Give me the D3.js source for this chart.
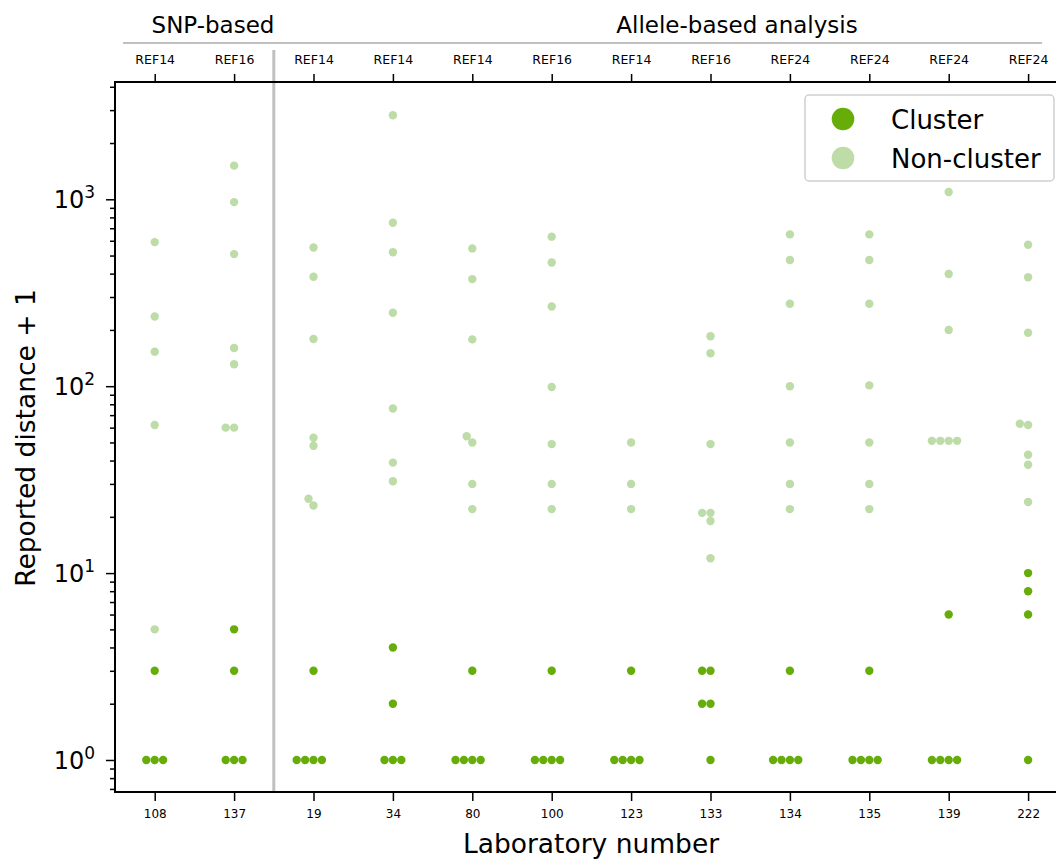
<!DOCTYPE html>
<html>
<head>
<meta charset="utf-8">
<script src="https://cdnjs.cloudflare.com/ajax/libs/d3/7.8.5/d3.min.js"></script>
<style>
  html, body { margin: 0; padding: 0; background: #ffffff; }
  svg { display: block; }
  text { font-family: "DejaVu Sans", sans-serif; fill: #000; }
</style>
</head>
<body>
<svg id="chart" width="1056" height="859"></svg>
<script>
// Laboratories, the reference genome each used, and the reported pairwise distances
const labs = ["108", "137", "19", "34", "80", "100", "123", "133", "134", "135", "139", "222"];
const refs = ["REF14", "REF16", "REF14", "REF14", "REF14", "REF16", "REF14", "REF16", "REF24", "REF24", "REF24", "REF24"];

// Reported distances for isolates in the outbreak cluster
const clusterDist = [
  [2, 0, 0, 0],
  [4, 2, 0, 0, 0],
  [2, 0, 0, 0, 0],
  [3, 1, 0, 0, 0],
  [2, 0, 0, 0, 0],
  [2, 0, 0, 0, 0],
  [2, 0, 0, 0, 0],
  [2, 2, 1, 1, 0],
  [2, 0, 0, 0, 0],
  [2, 0, 0, 0, 0],
  [5, 0, 0, 0, 0],
  [9, 7, 5, 0]
];

// Reported distances for isolates outside the cluster
const nonClusterDist = [
  [589, 235, 152, 61, 4],
  [1513, 965, 508, 159, 130, 59, 59],
  [551, 384, 178, 52, 47, 24, 22],
  [2813, 748, 520, 246, 75, 38, 30],
  [545, 373, 177, 53, 49, 29, 21],
  [630, 458, 266, 98, 48, 29, 21],
  [49, 29, 21],
  [184, 149, 48, 20, 20, 18, 11],
  [648, 472, 275, 99, 49, 29, 21],
  [648, 472, 275, 100, 49, 29, 21],
  [1092, 397, 199, 50, 50, 50, 50],
  [570, 382, 192, 62, 61, 42, 37, 23]
];

const groupLabels = ["SNP-based", "Allele-based analysis"];
const groupSplit = 2; // first allele-based column
const seriesNames = ["Cluster", "Non-cluster"];
const colors = { "Cluster": "#67ad09", "Non-cluster": "#bddca7" };

const svg = d3.select("#chart");
const font = "DejaVu Sans";

const plot = { left: 115, top: 82, bottom: 792, band: 79.4 };
const x = d3.scaleLinear().domain([-0.5, labs.length - 0.5])
  .range([plot.left, plot.left + labs.length * plot.band]);
const y = d3.scaleLog().domain([0.674, 4242]).range([plot.bottom, plot.top]);

// Gather points (plotted as distance + 1)
const points = [];
labs.forEach((lab, i) => {
  clusterDist[i].forEach(d => points.push({ i, v: d + 1, s: "Cluster" }));
  nonClusterDist[i].forEach(d => points.push({ i, v: d + 1, s: "Non-cluster" }));
});

// Beeswarm layout per column: place points bottom-up at the closest free offset
const R = 4.2, D = 8.4, MIN_GAP = 8.0;
d3.group(points, p => p.i).forEach(col => {
  col.forEach(p => { p.py = y(p.v); });
  col.sort((a, b) => b.py - a.py);
  const placed = [];
  col.forEach(p => {
    const cands = [0];
    placed.forEach(q => {
      const dy = Math.abs(q.py - p.py);
      if (dy < MIN_GAP) {
        const dx = Math.sqrt(D * D - dy * dy);
        cands.push(q.off - dx, q.off + dx);
      }
    });
    cands.sort((a, b) => (Math.abs(a) - Math.abs(b)) || (a - b));
    let chosen = 0;
    for (const c of cands) {
      const ok = placed.every(q => {
        const dx = q.off - c, dy = q.py - p.py;
        return dx * dx + dy * dy >= MIN_GAP * MIN_GAP - 1e-6;
      });
      if (ok) { chosen = c; break; }
    }
    p.off = chosen;
    placed.push(p);
  });
});

// Clip region for the plotting area (the right side runs past the canvas)
svg.append("defs").append("clipPath").attr("id", "plotclip")
  .append("rect").attr("x", plot.left).attr("y", plot.top)
  .attr("width", 2000).attr("height", plot.bottom - plot.top);

// Separator between SNP-based and allele-based columns
const sepX = (x(groupSplit - 1) + x(groupSplit)) / 2;
svg.append("line")
  .attr("x1", sepX).attr("x2", sepX).attr("y1", 50).attr("y2", plot.bottom)
  .attr("stroke", "#c0c0c0").attr("stroke-width", 3);

// Points
svg.append("g").attr("clip-path", "url(#plotclip)")
  .selectAll("circle").data(points).join("circle")
  .attr("cx", p => x(p.i) + p.off)
  .attr("cy", p => p.py)
  .attr("r", R)
  .attr("fill", p => colors[p.s]);

// Y axis: log scale with decade labels and minor ticks
const decades = [1, 10, 100, 1000];
const minors = [];
[0.1, 1, 10, 100, 1000].forEach(b => {
  for (let k = 2; k <= 9; k++) {
    const v = b * k;
    if (v >= y.domain()[0] && v <= y.domain()[1]) minors.push(v);
  }
});
const yMinor = d3.axisLeft(y).tickValues(minors).tickSize(5).tickFormat("");
const yMajor = d3.axisLeft(y).tickValues(decades).tickSize(9).tickFormat("");
[yMinor, yMajor].forEach(ax => {
  const g = svg.append("g").attr("transform", `translate(${plot.left},0)`).call(ax);
  g.select(".domain").remove();
  g.selectAll(".tick line").attr("stroke", "#000").attr("stroke-width", 1.5);
});
const yl = svg.append("g");
decades.forEach(v => {
  const t = yl.append("text")
    .attr("x", 95).attr("y", y(v) + 9)
    .attr("text-anchor", "end")
    .attr("font-size", 24);
  t.append("tspan").text("10");
  t.append("tspan").attr("dy", -10).attr("font-size", 17).text(String(Math.round(Math.log10(v))));
});

// Bottom axis: laboratory numbers
const xBottom = d3.axisBottom(x).tickValues(d3.range(labs.length))
  .tickSize(9).tickPadding(8).tickFormat(i => labs[i]);
const gb = svg.append("g").attr("transform", `translate(0,${plot.bottom})`).call(xBottom);
gb.select(".domain").remove();
gb.selectAll(".tick line").attr("stroke", "#000").attr("stroke-width", 1.5);
gb.selectAll(".tick text").attr("font-family", font).attr("font-size", 12).attr("fill", "#000");

// Top axis: reference genome used by each laboratory
const xTop = d3.axisTop(x).tickValues(d3.range(labs.length))
  .tickSize(8).tickPadding(10).tickFormat(i => refs[i]);
const gt = svg.append("g").attr("transform", `translate(0,${plot.top})`).call(xTop);
gt.select(".domain").remove();
gt.selectAll(".tick line").attr("stroke", "#000").attr("stroke-width", 1.5);
gt.selectAll(".tick text").attr("font-family", font).attr("font-size", 12.5).attr("fill", "#000");

// Spines
const xEnd = 1080;
[[plot.left, plot.top, plot.left, plot.bottom],
 [plot.left - 1, plot.bottom, xEnd, plot.bottom],
 [plot.left - 1, plot.top, xEnd, plot.top]].forEach(([x1, y1, x2, y2]) => {
  svg.append("line").attr("x1", x1).attr("y1", y1).attr("x2", x2).attr("y2", y2)
    .attr("stroke", "#000").attr("stroke-width", 2);
});

// Group headers
svg.append("line").attr("x1", 123).attr("x2", 1042).attr("y1", 43).attr("y2", 43)
  .attr("stroke", "#c0c0c0").attr("stroke-width", 2);
svg.append("text").attr("x", 213).attr("y", 33).attr("text-anchor", "middle")
  .attr("font-size", 23).text(groupLabels[0]);
svg.append("text").attr("x", 737).attr("y", 33).attr("text-anchor", "middle")
  .attr("font-size", 23).text(groupLabels[1]);

// Axis titles
svg.append("text").attr("transform", "translate(35,438) rotate(-90)")
  .attr("text-anchor", "middle").attr("font-size", 26.5).text("Reported distance + 1");
svg.append("text").attr("x", 591).attr("y", 853)
  .attr("text-anchor", "middle").attr("font-size", 26.5).text("Laboratory number");

// Legend
const lg = svg.append("g");
lg.append("rect").attr("x", 805).attr("y", 95).attr("width", 249).attr("height", 86)
  .attr("rx", 4).attr("fill", "#ffffff").attr("fill-opacity", 0.85)
  .attr("stroke", "#d0d0d0").attr("stroke-width", 1.5);
seriesNames.forEach((s, k) => {
  const cy = 119 + k * 39;
  lg.append("circle").attr("cx", 843).attr("cy", cy).attr("r", 11.3).attr("fill", colors[s]);
  lg.append("text").attr("x", 891).attr("y", cy + 9.5).attr("font-size", 26).text(s);
});
</script>
</body>
</html>
